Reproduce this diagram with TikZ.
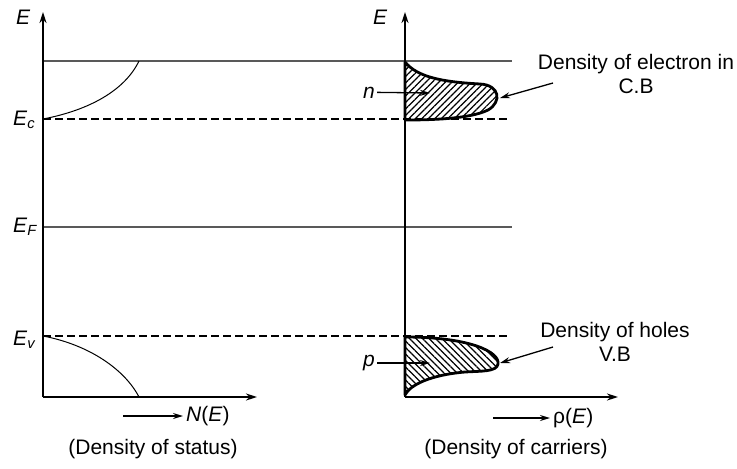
\documentclass[tikz,border=0pt]{standalone}
\usepackage{fontspec}
\setmainfont{Liberation Sans}
\usetikzlibrary{arrows.meta,patterns.meta}

\begin{document}
\begin{tikzpicture}[
  x=1pt, y=-1pt,
  font=\fontsize{21}{24}\selectfont,
  axis/.style={line width=1.8pt, -{Stealth[length=11pt,width=7pt]}},
  level/.style={line width=1.2pt, black!65},
  dashlevel/.style={line width=1.5pt, dash pattern=on 8pt off 4pt},
  dos/.style={line width=1pt},
  band/.style={line width=2.8pt, line join=round},
  lbl/.style={inner sep=0pt},
  ptr/.style={line width=1.3pt, -{Stealth[length=10pt,width=6pt]}}
]
\useasboundingbox (0,0) rectangle (737,469);

% ---------- energy levels ----------
\draw[level] (43,61) -- (512,61);
\draw[level] (43,227) -- (512,227);
\draw[dashlevel] (43,119) -- (510,119);
\draw[dashlevel] (43,336) -- (510,336);

% ---------- left: density of states ----------
\draw[dos] (43,119) .. controls (90,110) and (125,90) .. (139,61);
\draw[dos] (43,336) .. controls (90,345) and (125,370) .. (139,397);

% ---------- right: carrier densities ----------
\draw[band, pattern={Lines[angle=45,distance=4.6pt,line width=1.2pt]}]
  (405,62) .. controls (418,78) and (445,82) .. (480,84)
  .. controls (500,85) and (502,102) .. (488,110)
  .. controls (470,119) and (430,120) .. (405,120) -- cycle;
\draw[band, pattern={Lines[angle=-45,distance=4.6pt,line width=1.2pt]}]
  (405,337) .. controls (470,337) and (500,352) .. (498,364)
  .. controls (497,372) and (480,371) .. (465,372)
  .. controls (430,375) and (410,385) .. (405,395) -- cycle;

% ---------- axes ----------
\draw[axis] (43,397) -- (43,12);
\draw[axis] (43,397) -- (257,397);
\draw[axis] (405,397) -- (405,12);
\draw[axis] (405,397) -- (618,397);

% ---------- labels ----------
\node[lbl, anchor=base west] (E1) at (16,24) {\textit{E}};
\node[lbl, anchor=base west] (E2) at (373,24) {\textit{E}};
\node[lbl, anchor=base west] (Ec) at (13,125) {\textit{E}\textsubscript{\textit{c}}};
\node[lbl, anchor=base west] (EF) at (13,232) {\textit{E}\textsubscript{\textit{F}}};
\node[lbl, anchor=base west] (Ev) at (13,345) {\textit{E}\textsubscript{\textit{v}}};

\node[lbl, anchor=base west] (nlbl) at (363,98) {\textit{n}};
\node[lbl, anchor=west] (plbl) at (363,363) {\textit{p}};
\coordinate (nend) at (430,93);
\coordinate (pend) at (430,363);
\draw[ptr] ([xshift=2pt]nlbl.east) -- (nend);
\draw[ptr] ([xshift=2pt]plbl.east) -- (pend);

\node[lbl, anchor=west] (NE) at (186,416) {\textit{N}(\textit{E})};
\node[lbl, anchor=west] (rhoE) at (553,418) {ρ(\textit{E})};
\coordinate (NEstart) at (123,416);
\coordinate (rhostart) at (493,418);
\draw[ptr] (NEstart) -- ([xshift=-3pt]NE.west);
\draw[ptr] (rhostart) -- ([xshift=-3pt]rhoE.west);

\node (cap1) at (153,449) {(Density of status)};
\node (cap2) at (516,449) {(Density of carriers)};

% ---------- pointers to the carrier bands ----------
\node[lbl, align=center, anchor=north] (etext) at (636,54) {Density of electron in\\C.B};
\node[lbl, align=center, anchor=north] (htext) at (615,322) {Density of holes\\V.B};
\coordinate (estart) at (553,83);
\coordinate (etip) at (500,98);
\coordinate (hstart) at (553,347);
\coordinate (htip) at (500,363);
\draw[ptr] (estart) -- (etip);
\draw[ptr] (hstart) -- (htip);

\end{tikzpicture}
\end{document}
